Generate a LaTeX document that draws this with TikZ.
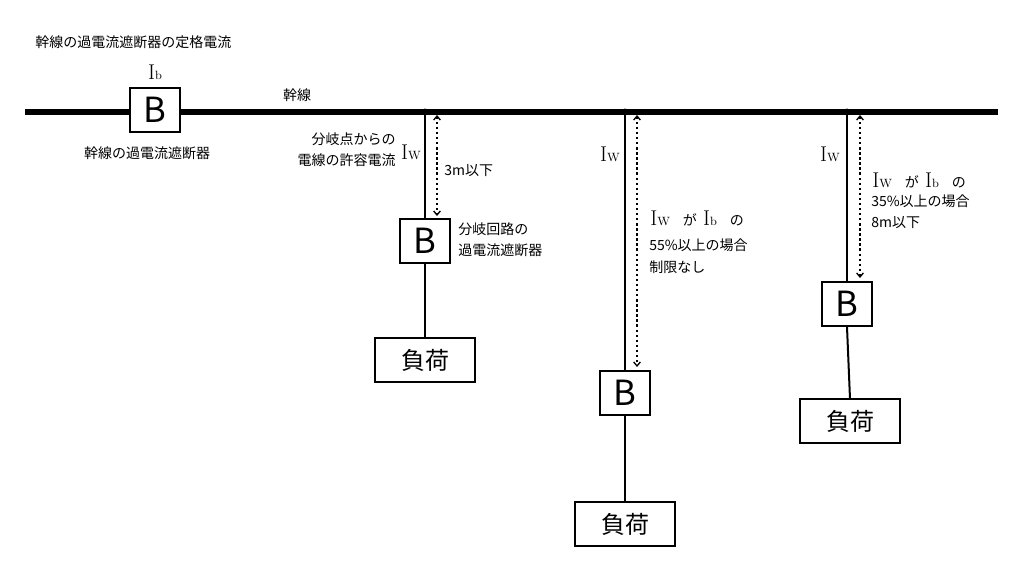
\documentclass[tikz,border=0pt]{standalone}
\usepackage{fontspec}
\setsansfont{Noto Sans CJK JP}
\newfontfamily\jp{Noto Sans CJK JP}
\usetikzlibrary{arrows.meta}
\begin{document}
\begin{tikzpicture}[x=0.75pt,y=-0.75pt,
 txt/.style={font=\jp\fontsize{10.5}{13}\selectfont,inner sep=0pt},
 bbox/.style={draw,line width=1.5pt,minimum width=37.5pt,minimum height=33pt,inner sep=0pt,font=\sffamily\fontsize{26}{26}\selectfont},
 load/.style={draw,line width=1.2pt,minimum width=75pt,minimum height=33pt,inner sep=0pt,font=\jp\fontsize{18}{18}\selectfont},
 wire/.style={line width=1.5pt},
 dim/.style={line width=1.8pt,dotted,{Straight Barb[length=3pt,width=5pt,line width=1pt]}-{Straight Barb[length=3pt,width=5pt,line width=1pt]}},
 cur/.style={font=\rmfamily\fontsize{16}{16}\selectfont,inner sep=0pt}]
\useasboundingbox (0,0) rectangle (1024,576);
\newcommand{\IW}{I\raisebox{0pt}{\fontsize{9}{9}\selectfont W}}
\newcommand{\IB}{I\raisebox{0pt}{\fontsize{9}{9}\selectfont b}}
% trunk
\coordinate (tl) at (25,112); \coordinate (tr) at (998,112);
\draw[line width=4.5pt] (tl) -- (tr);
\node[bbox,fill=white] (B0) at (155,110) {B};
\node[cur] (ib) at (155,72) {\IB};
\node[txt,anchor=west] (title) at (35,42) {幹線の過電流遮断器の定格電流};
\node[txt] (b0l) at (147,153) {幹線の過電流遮断器};
\node[txt] (kl) at (297,95) {幹線};
% branch 1
\coordinate (j1) at (425,112); \fill (j1) circle (3.5);
\node[bbox] (B1) at (425,241) {B};
\node[load] (L1) at (425,360) {負荷};
\draw[wire] (j1) -- (B1.north); \draw[wire] (B1.south) -- (L1.north);
\coordinate (a1) at (437,115); \coordinate (a1b) at (437,216);
\draw[dim] (a1) -- (a1b);
\node[txt,anchor=west] (l13) at (444,171) {3m以下};
\node[txt,align=right,anchor=east] (l1a) at (396,150) {分岐点からの\\[3pt]電線の許容電流};
\node[cur] (iw1) at (411,152) {\IW};
\node[txt,align=left,anchor=west] (l1b) at (458,240) {分岐回路の\\[3pt]過電流遮断器};
% branch 2
\coordinate (j2) at (625,112); \fill (j2) circle (3.5);
\node[bbox] (B2) at (625,393) {B};
\node[load] (L2) at (625,524) {負荷};
\draw[wire] (j2) -- (B2.north); \draw[wire] (B2.south) -- (L2.north);
\coordinate (a2) at (637,115); \coordinate (a2b) at (637,367);
\draw[dim] (a2) -- (a2b);
\node[cur] (iw2) at (610,154) {\IW};
\node[txt,anchor=west] (t2a) at (650,218) {\rmfamily\fontsize{16}{16}\selectfont\IW\ \ \jp\fontsize{10.5}{13}\selectfont が\ \ \rmfamily\fontsize{16}{16}\selectfont\IB\ \ \jp\fontsize{10.5}{13}\selectfont の};
\node[txt,anchor=west] (t2b) at (649,245) {55\%以上の場合};
\node[txt,anchor=west] (t2c) at (649,267) {制限なし};
% branch 3
\coordinate (j3) at (847,112); \fill (j3) circle (3.5);
\node[bbox] (B3) at (847,304) {B};
\node[load] (L3) at (850,421) {負荷};
\draw[wire] (j3) -- (B3.north); \draw[wire] (B3.south) -- (850,399);
\coordinate (a3) at (860,115); \coordinate (a3b) at (860,278);
\draw[dim] (a3) -- (a3b);
\node[cur] (iw3) at (830,154) {\IW};
\node[txt,anchor=west] (t3a) at (872,180) {\rmfamily\fontsize{16}{16}\selectfont\IW\ \ \jp\fontsize{10.5}{13}\selectfont が\ \ \rmfamily\fontsize{16}{16}\selectfont\IB\ \ \jp\fontsize{10.5}{13}\selectfont の};
\node[txt,anchor=west] (t3b) at (871,201) {35\%以上の場合};
\node[txt,anchor=west] (t3c) at (871,223) {8m以下};
\end{tikzpicture}
\end{document}
